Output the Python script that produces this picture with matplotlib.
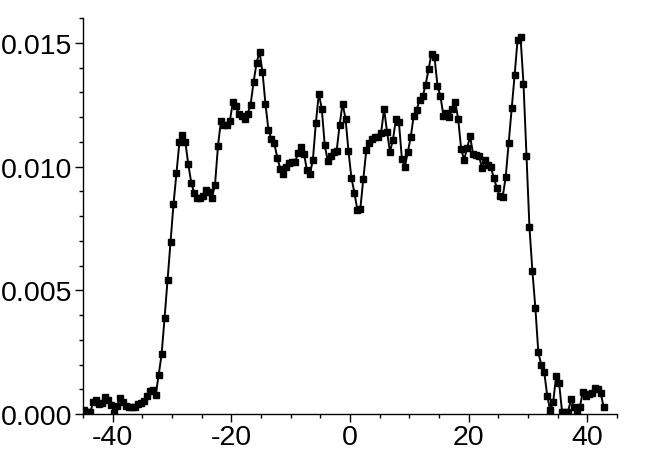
import numpy as np
import matplotlib
matplotlib.use("Agg")
import matplotlib.pyplot as plt
from matplotlib.ticker import MultipleLocator

# positions: 0.5 steps from -44.75 to 42.75
x_start = -44.75
x_step = 0.5

# values
y_vals = [
    0.00017, 0.00007, 0.00010, 0.00050, 0.00058, 0.00040, 0.00045, 0.00067,
    0.00056, 0.00036, 0.00005, 0.00033, 0.00063, 0.00050, 0.00033, 0.00027,
    0.00028, 0.00030, 0.00040, 0.00045, 0.00054, 0.00074, 0.00094, 0.00098,
    0.00077, 0.00157, 0.00242, 0.00388, 0.00540, 0.00694, 0.00847, 0.00972,
    0.01098, 0.01126, 0.01098, 0.01009, 0.00934, 0.00892, 0.00871, 0.00871,
    0.00882, 0.00904, 0.00896, 0.00874, 0.00926, 0.01083, 0.01185, 0.01169,
    0.01167, 0.01183, 0.01259, 0.01246, 0.01214, 0.01203, 0.01190, 0.01214,
    0.01250, 0.01341, 0.01418, 0.01464, 0.01383, 0.01254, 0.01149, 0.01112,
    0.01093, 0.01035, 0.00991, 0.00968, 0.00997, 0.01015, 0.01017, 0.01017,
    0.01055, 0.01079, 0.01052, 0.00985, 0.00968, 0.01028, 0.01176, 0.01295,
    0.01233, 0.01085, 0.01024, 0.01044, 0.01059, 0.01062, 0.01167, 0.01254,
    0.01194, 0.01062, 0.00953, 0.00894, 0.00824, 0.00830, 0.00950, 0.01065,
    0.01093, 0.01113, 0.01120, 0.01120, 0.01136, 0.01233, 0.01140, 0.01060,
    0.01109, 0.01192, 0.01179, 0.01032, 0.00999, 0.01058, 0.01120, 0.01206,
    0.01230, 0.01270, 0.01283, 0.01330, 0.01394, 0.01456, 0.01442, 0.01327,
    0.01284, 0.01206, 0.01217, 0.01200, 0.01233, 0.01261, 0.01190, 0.01069,
    0.01028, 0.01075, 0.01122, 0.01051, 0.01047, 0.01044, 0.00993, 0.01026,
    0.01008, 0.00997, 0.00954, 0.00914, 0.00880, 0.00878, 0.00958, 0.01095,
    0.01237, 0.01368, 0.01512, 0.01523, 0.01335, 0.01042, 0.00757, 0.00578,
    0.00429, 0.00249, 0.00198, 0.00168, 0.00074, 0.00015, 0.00047, 0.00153,
    0.00125, 0.00009, 0.00010, 0.00008, 0.00059, 0.00030, 0.00010, 0.00028,
    0.00089, 0.00071, 0.00079, 0.00085, 0.00104, 0.00100, 0.00086, 0.00030,
]
x_vals = x_start + x_step * np.arange(len(y_vals))

x_ticks = [-40, -20, 0, 20, 40]
y_ticks = [0.000, 0.005, 0.010, 0.015]

plt.rcParams['font.family'] = ['Liberation Sans', 'DejaVu Sans']
plt.rcParams['axes.unicode_minus'] = False

fig = plt.figure(figsize=(6.46, 4.64), dpi=100)
ax = fig.add_axes([0.1285, 0.1056, 0.8265, 0.8534])

ax.plot(x_vals, y_vals, color='black', lw=1.4, marker='s', ms=3.7,
        mec='black', mfc='black')

ax.set_xlim(-45, 45)
ax.set_ylim(0, 0.016)
ax.set_xticks(x_ticks)
ax.set_xticklabels([str(t) for t in x_ticks])
ax.set_yticks(y_ticks)
ax.set_yticklabels(['%.3f' % t for t in y_ticks])
ax.xaxis.set_minor_locator(MultipleLocator(5))
ax.yaxis.set_minor_locator(MultipleLocator(0.001))

for s in ['top', 'right']:
    ax.spines[s].set_visible(False)
for s in ['left', 'bottom']:
    ax.spines[s].set_linewidth(1.0)

ax.tick_params(which='major', direction='out', length=5.5, width=1.0,
               labelsize=20.5, pad=2)
ax.tick_params(which='minor', direction='out', length=3, width=1.0)

fig.savefig('out.png', dpi=100)
